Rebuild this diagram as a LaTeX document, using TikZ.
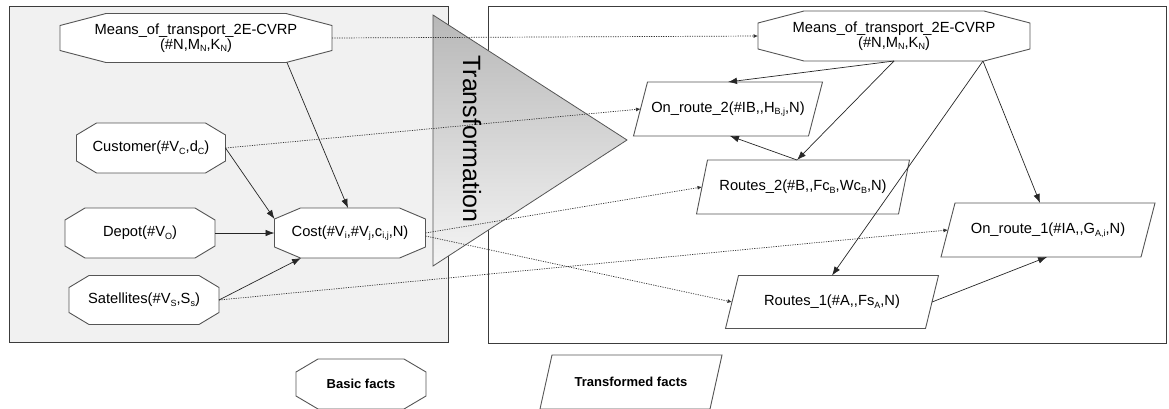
\documentclass[tikz,border=0pt]{standalone}
\usepackage{fontspec}
\setmainfont{Liberation Sans}
\usetikzlibrary{arrows.meta,calc}
\definecolor{boxline}{HTML}{3C3C3C}
\definecolor{factline}{HTML}{555555}
\definecolor{leftfill}{HTML}{F1F1F1}
\newcommand{\lo}[1]{\raisebox{-0.35ex}{\fontsize{9}{9}\selectfont #1}}
\newcommand{\dc}{,\kern0pt,}
% octagon round a node: node, horizontal cut, vertical cut
\newcommand{\octagonof}[3]{%
  \draw[factshape] ([xshift=#2]#1.north west) -- ([xshift=-#2]#1.north east)
    -- ([yshift=-#3]#1.north east) -- ([yshift=#3]#1.south east)
    -- ([xshift=-#2]#1.south east) -- ([xshift=#2]#1.south west)
    -- ([yshift=#3]#1.south west) -- ([yshift=-#3]#1.north west) -- cycle;}
% parallelogram round a node: node, slant
\newcommand{\slantof}[2]{%
  \draw[factshape] ([xshift=#2/2]#1.north west) -- ([xshift=#2/2]#1.north east)
    -- ([xshift=-#2/2]#1.south east) -- ([xshift=-#2/2]#1.south west) -- cycle;}
\pgfdeclarelayer{frames}
\pgfdeclarelayer{shapes}
\pgfsetlayers{frames,shapes,main}

\begin{document}
\begin{tikzpicture}[x=1pt,y=-1pt,
    fact/.style={inner sep=0pt, outer sep=0pt, align=center,
      font=\fontsize{14.7}{14.5}\selectfont},
    factshape/.style={draw=factline, fill=white, line width=0.9pt},
    link/.style={-{Latex[length=9pt,width=6.5pt]}, line width=0.7pt, black!85},
    maps/.style={-{Latex[length=4.5pt,width=4pt]}, line width=0.7pt,
      dash pattern=on 1.2pt off 1.2pt, black!80}]
  \useasboundingbox (0,0) rectangle (1169,408);

  % Frames
  \begin{pgfonlayer}{frames}
    \draw[boxline, line width=1pt, fill=leftfill] (9,6) rectangle (448,342);
    \draw[boxline, line width=1pt] (488,6) rectangle (1166,343);
    \shade[top color=black!28, bottom color=black!4, draw=factline, line width=0.8pt]
      (433,15) -- (627,140) -- (433,266) -- cycle;
  \end{pgfonlayer}
  \node[rotate=-90, font=\fontsize{25}{25}\selectfont] (trans) at (472,139) {Transformation};

  % Basic facts
  \node[fact, minimum width=272pt, minimum height=49pt] (meansL) at (196,38)
    {Means\_of\_transport\_2E-CVRP\\(\#N,M\lo{N},K\lo{N})};
  \node[fact, minimum width=149pt, minimum height=50pt] (customer) at (151,148)
    {Customer(\#V\lo{C},d\lo{C})};
  \node[fact, minimum width=150pt, minimum height=50pt] (depot) at (140,233)
    {Depot(\#V\lo{O})};
  \node[fact, minimum width=151pt, minimum height=50pt] (cost) at (350,233)
    {Cost(\#V\lo{i},\#V\lo{j},c\lo{i,j},N)};
  \node[fact, minimum width=150pt, minimum height=49pt] (satellites) at (144,300)
    {Satellites(\#V\lo{S},S\lo{s})};

  % Transformed facts
  \node[fact, minimum width=272pt, minimum height=50pt] (meansR) at (894,36)
    {Means\_of\_transport\_2E-CVRP\\(\#N,M\lo{N},K\lo{N})};
  \node[fact, minimum width=175pt, minimum height=54pt] (onroute2) at (728,109)
    {On\_route\_2(\#IB\dc H\lo{B,j},N)};
  \node[fact, minimum width=202pt, minimum height=54pt] (routes2) at (803,187)
    {Routes\_2(\#B\dc Fc\lo{B},Wc\lo{B},N)};
  \node[fact, minimum width=200pt, minimum height=54pt] (onroute1) at (1048,230)
    {On\_route\_1(\#IA\dc G\lo{A,i},N)};
  \node[fact, minimum width=200pt, minimum height=53pt] (routes1) at (832,302)
    {Routes\_1(\#A\dc Fs\lo{A},N)};

  % Legend
  \node[fact, minimum width=130pt, minimum height=50pt, font=\fontsize{13}{13}\selectfont\bfseries]
    (basiclegend) at (361,384) {Basic facts};
  \node[fact, minimum width=170pt, minimum height=54pt, font=\fontsize{13}{13}\selectfont\bfseries]
    (translegend) at (631,382) {Transformed facts};

  \begin{pgfonlayer}{shapes}
    \octagonof{meansL}{46pt}{12pt}
    \octagonof{customer}{20pt}{12pt}
    \octagonof{depot}{20pt}{12pt}
    \octagonof{cost}{26pt}{11pt}
    \octagonof{satellites}{20pt}{12pt}
    \octagonof{meansR}{46pt}{12pt}
    \octagonof{basiclegend}{22pt}{13pt}
    \slantof{onroute2}{14pt}
    \slantof{routes2}{11pt}
    \slantof{onroute1}{14pt}
    \slantof{routes1}{13pt}
    \slantof{translegend}{12pt}
  \end{pgfonlayer}

  % Dependencies
  \draw[link] ([xshift=91pt]meansL.south) -- ([xshift=-2pt]cost.north);
  \draw[link] (customer.east) -- ([yshift=14pt]cost.west);
  \draw[link] (depot.east) -- (cost.west);
  \draw[link] (satellites.east) -- ([xshift=-49pt]cost.south);
  \draw[link] (meansR.south) -- (onroute2.north);
  \draw[link] (meansR.south) -- ([xshift=-6pt]routes2.north);
  \draw[link] ([xshift=-6pt]routes2.north) -- ([xshift=2pt]onroute2.south);
  \draw[link] ([xshift=89pt]meansR.south) -- ([xshift=-8pt]onroute1.north);
  \draw[link] ([xshift=89pt]meansR.south) -- (routes1.north);
  \draw[link] (routes1.east) -- ([xshift=-1pt]onroute1.south);

  % Mapping
  \draw[maps] (meansL.east) -- (meansR.west);
  \draw[maps] (customer.east) -- (onroute2.west);
  \draw[maps] (cost.east) -- (routes2.west);
  \draw[maps] ([yshift=-3pt]cost.east) -- (routes1.west);
  \draw[maps] (satellites.east) -- (onroute1.west);
\end{tikzpicture}
\end{document}
